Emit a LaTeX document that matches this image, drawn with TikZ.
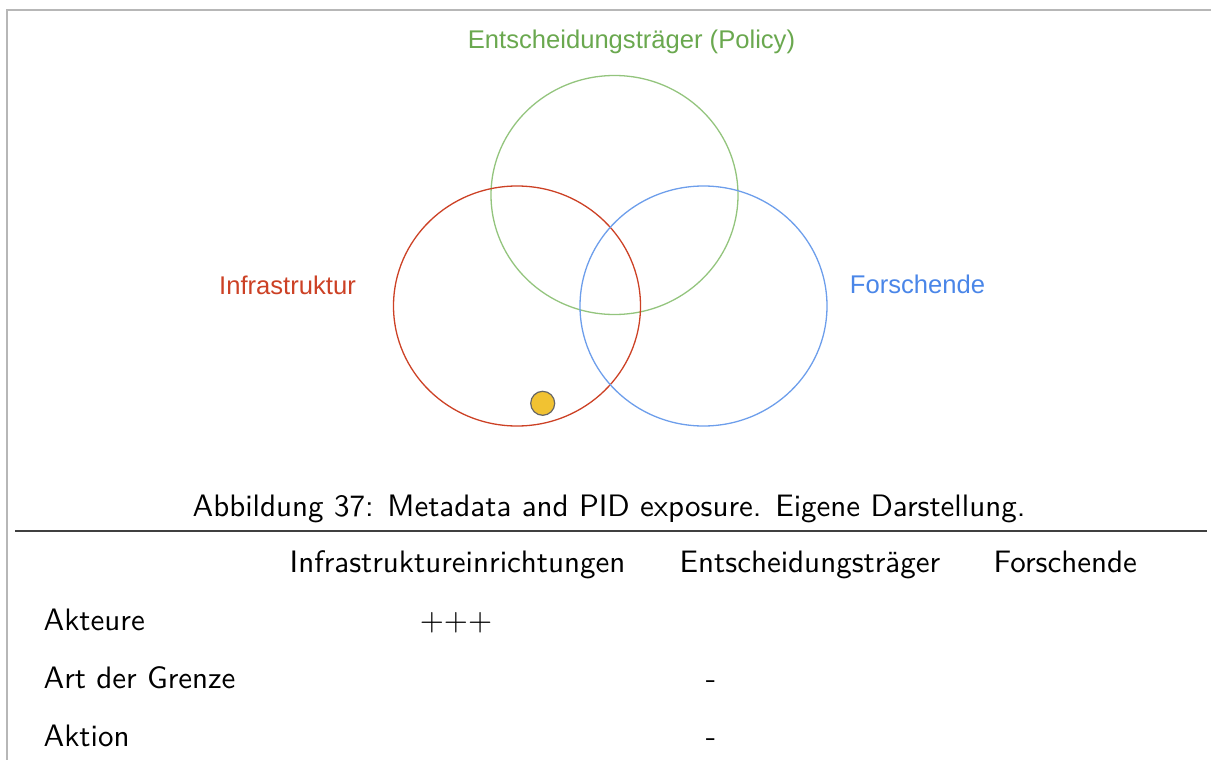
\documentclass[tikz,border=0pt]{standalone}
\usepackage{fontspec}
\newfontfamily\vennfont{Liberation Sans}
\newfontfamily\tabfont{lmsans10-regular}[Extension=.otf]
\definecolor{infrared}{HTML}{CC4125}
\definecolor{policygreen}{HTML}{6AA84F}
\definecolor{policyline}{HTML}{93C47D}
\definecolor{researchblue}{HTML}{4A86E8}
\definecolor{researchline}{HTML}{6D9EEB}
\definecolor{dotyellow}{HTML}{F1C232}
\definecolor{framegray}{HTML}{B7B7B7}
\begin{document}
\begin{tikzpicture}[x=1pt,y=-1pt,line width=1.3pt,
  vennlabel/.style={font=\vennfont\fontsize{25.6}{30}\selectfont,inner sep=0pt,anchor=base},
  tabtext/.style={font=\tabfont\fontsize{31}{37}\selectfont,inner sep=0pt,anchor=base west}]
\useasboundingbox (0,0) rectangle (1211,760);
% frame
\draw[framegray,line width=2pt] (7,760)--(7,10)--(1211,10);
% venn circles
\draw[policyline] (614.5,195) ellipse [x radius=123.5,y radius=119.5];
\draw[infrared] (517,306) ellipse [x radius=123.5,y radius=120];
\draw[researchline] (703.5,306) ellipse [x radius=123.5,y radius=120];
\node[circle,fill=dotyellow,draw=black!60,line width=1.2pt,minimum size=24pt,inner sep=0pt] (pid) at (542.7,403.3) {};
\node[vennlabel,text=policygreen] (policy) at (631.5,49) {Entscheidungsträger (Policy)};
\node[vennlabel,text=infrared] (infra) at (287.5,294) {Infrastruktur};
\node[vennlabel,text=researchblue] (research) at (917.5,293.5) {Forschende};
% caption and table
\node[tabtext,anchor=base] (caption) at (609,516) {Abbildung 37: Metadata and PID exposure. Eigene Darstellung.};
\draw[black!75] (15,531)--(1207,531);
\node[tabtext] (hinfra) at (289,572) {Infrastruktureinrichtungen};
\node[tabtext] (hpolicy) at (679,572) {Entscheidungsträger};
\node[tabtext] (hresearch) at (993,572) {Forschende};
\node[tabtext] (akteure) at (43,630) {Akteure};
\node[tabtext] (grenze) at (43,688) {Art der Grenze};
\node[tabtext] (aktion) at (43,746) {Aktion};
\node[tabtext,anchor=base] (akteureinfra) at (456,630) {+++};
\node[tabtext,anchor=base] (grenzepolicy) at (711,688) {-};
\node[tabtext,anchor=base] (aktionpolicy) at (711,746) {-};
\end{tikzpicture}
\end{document}
